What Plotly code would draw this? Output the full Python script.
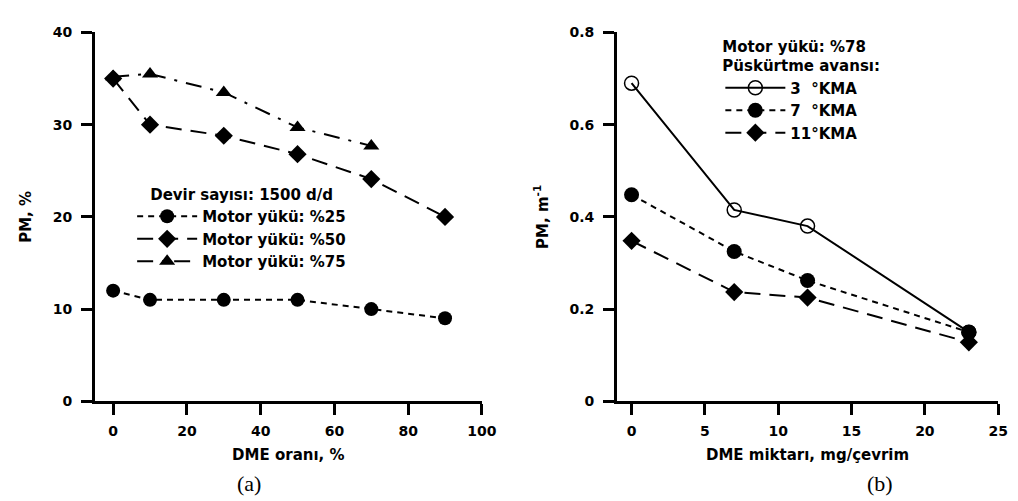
import plotly.graph_objects as go

# ---- Data: panel (a) ----
dme_ratio = [0, 10, 30, 50, 70, 90]
load25 = [12, 11, 11, 11, 10, 9]
load50 = [35, 30, 28.8, 26.8, 24.1, 20]
dme_ratio75 = [0, 10, 30, 50, 70]
load75 = [35.2, 35.5, 33.5, 29.7, 27.7]

# ---- Data: panel (b) ----
dme_amount = [0, 7, 12, 23]
kma3 = [0.69, 0.415, 0.38, 0.15]
kma7 = [0.448, 0.325, 0.262, 0.15]
kma11 = [0.348, 0.237, 0.225, 0.128]

xticks_a = [0, 20, 40, 60, 80, 100]
yticks_a = [0, 10, 20, 30, 40]
xticks_b = [0, 5, 10, 15, 20, 25]
yticks_b = [0, 0.2, 0.4, 0.6, 0.8]
yticklabels_b = ["0", "0.2", "0.4", "0.6", "0.8"]

FONT = "DejaVu Sans, sans-serif"
W, H = 1018, 501

fig = go.Figure()

# panel (a)
fig.add_trace(go.Scatter(
    x=dme_ratio, y=load25, name="Motor yükü: %25", legend="legend", legendrank=1,
    mode="lines+markers", line=dict(color="black", width=2, dash="6px,5px"),
    marker=dict(symbol="circle", size=14, color="black"), xaxis="x", yaxis="y"))
fig.add_trace(go.Scatter(
    x=dme_ratio75, y=load75, name="Motor yükü: %75", legend="legend", legendrank=3,
    mode="lines+markers", line=dict(color="black", width=2, dash="16px,9px,3px,9px"),
    marker=dict(symbol="triangle-up", size=14, color="black"), xaxis="x", yaxis="y"))
fig.add_trace(go.Scatter(
    x=dme_ratio, y=load50, name="Motor yükü: %50", legend="legend", legendrank=2,
    mode="lines+markers", line=dict(color="black", width=2, dash="16px,9px"),
    marker=dict(symbol="diamond", size=14, color="black"), xaxis="x", yaxis="y"))

# panel (b)
fig.add_trace(go.Scatter(
    x=dme_amount, y=kma3, name="3  °KMA", legend="legend2",
    mode="lines+markers", line=dict(color="black", width=2),
    marker=dict(symbol="circle-open", size=14, color="black", line=dict(width=1.5)),
    xaxis="x2", yaxis="y2"))
fig.add_trace(go.Scatter(
    x=dme_amount, y=kma7, name="7  °KMA", legend="legend2",
    mode="lines+markers", line=dict(color="black", width=2, dash="6px,5px"),
    marker=dict(symbol="circle", size=15, color="black"), xaxis="x2", yaxis="y2"))
fig.add_trace(go.Scatter(
    x=dme_amount, y=kma11, name="11°KMA", legend="legend2",
    mode="lines+markers", line=dict(color="black", width=2, dash="16px,9px"),
    marker=dict(symbol="diamond", size=14, color="black"), xaxis="x2", yaxis="y2"))

def px_x(p):
    return p / W

def px_y(p):
    return 1 - p / H

axis_common = dict(
    showline=True, linecolor="black", linewidth=2.5, ticks="outside", ticklen=11,
    tickwidth=2.5, tickcolor="black", showgrid=False, zeroline=False,
    tickfont=dict(family=FONT, size=14, color="black", weight="bold"),
    title_font=dict(family=FONT, size=15, color="black", weight="bold"),
)

fig.update_layout(
    width=W, height=H, margin=dict(l=0, r=0, t=0, b=0),
    paper_bgcolor="white", plot_bgcolor="white",
    font=dict(family=FONT, size=15, color="black", weight="bold"),
    xaxis=dict(domain=[px_x(88), px_x(481)], range=[-5, 100], tickvals=xticks_a,
               ticklabelstandoff=4,
               title=dict(text="DME oranı, %", standoff=12), anchor="y", **axis_common),
    yaxis=dict(domain=[px_y(398), px_y(17)], range=[0, 40], tickvals=yticks_a,
               ticklabelstandoff=6,
               title=dict(text="PM, %", standoff=18), anchor="x", **axis_common),
    xaxis2=dict(domain=[px_x(618), px_x(1005)], range=[-1, 25], tickvals=xticks_b,
                ticklabelstandoff=4,
                title=dict(text="DME miktarı, mg/çevrim", standoff=12), anchor="y2", **axis_common),
    yaxis2=dict(domain=[px_y(398), px_y(17)], range=[0, 0.8], tickvals=yticks_b,
                ticktext=yticklabels_b, ticklabelstandoff=6,
                title=dict(text="PM, m<sup>-1</sup>", standoff=18),
                anchor="x2", **axis_common),
    legend=dict(x=px_x(126), y=px_y(170), xanchor="left", yanchor="top",
                bgcolor="rgba(0,0,0,0)", itemwidth=60,
                title=dict(text="Devir sayısı: 1500 d/d", side="top center",
                           font=dict(family=FONT, size=15, weight="bold")),
                font=dict(family=FONT, size=15, color="black", weight="bold"),
                traceorder="normal", tracegroupgap=0),
    legend2=dict(x=px_x(723), y=px_y(17), xanchor="left", yanchor="top",
                 bgcolor="rgba(0,0,0,0)", itemwidth=60,
                 title=dict(text="Motor yükü: %78<br>Püskürtme avansı:", side="top",
                            font=dict(family=FONT, size=15, weight="bold")),
                 font=dict(family=FONT, size=15, color="black", weight="bold"),
                 traceorder="normal"),
    annotations=[
        dict(text="(a)", x=px_x(245), y=px_y(483), xref="paper", yref="paper",
             xanchor="center", yanchor="middle", showarrow=False,
             font=dict(family="Liberation Serif, Times New Roman, serif",
                       size=22, color="black", weight="normal")),
        dict(text="(b)", x=px_x(885), y=px_y(483), xref="paper", yref="paper",
             xanchor="center", yanchor="middle", showarrow=False,
             font=dict(family="Liberation Serif, Times New Roman, serif",
                       size=22, color="black", weight="normal")),
    ],
)

fig.write_html("out.html")
